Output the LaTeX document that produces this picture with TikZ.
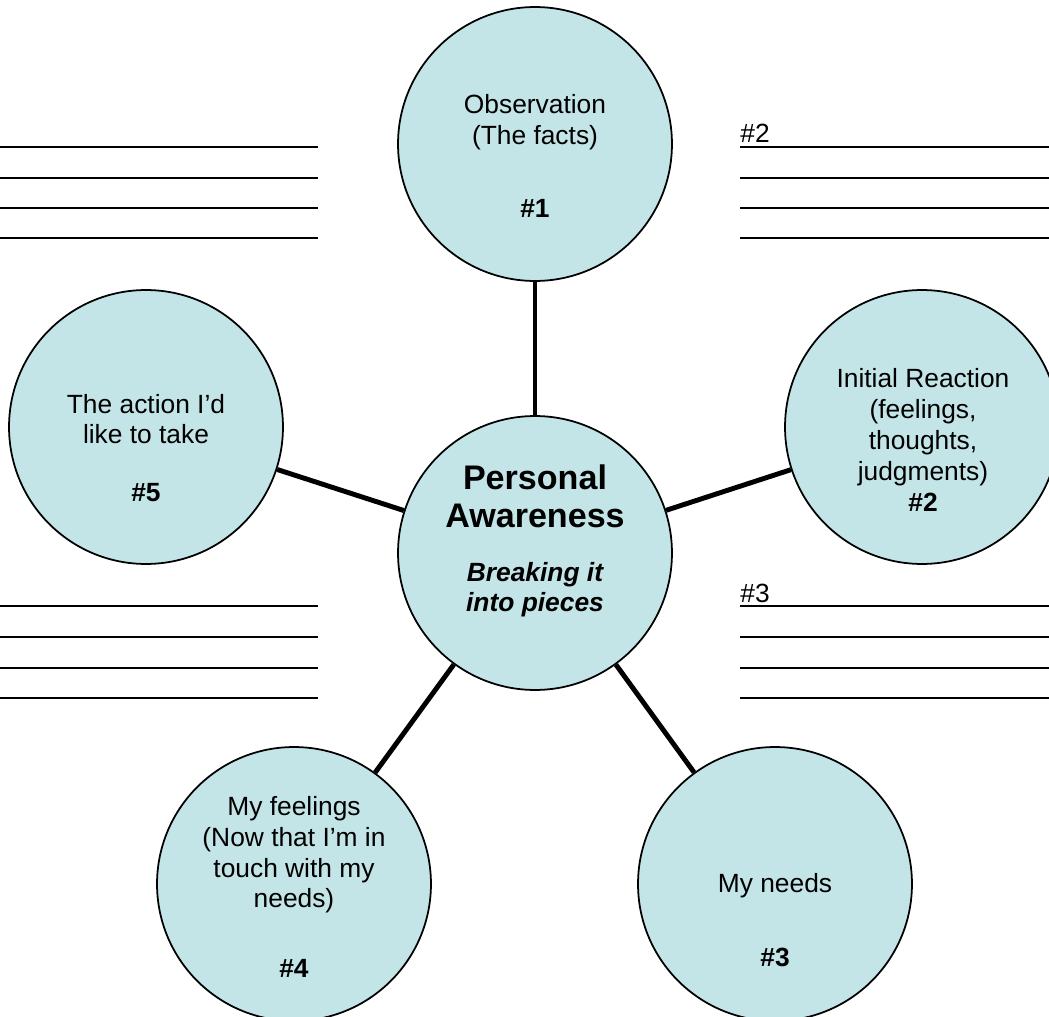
\documentclass[tikz,border=0pt]{standalone}
\usepackage{fontspec}
\setmainfont{Liberation Sans}
\usetikzlibrary{positioning,calc}
\definecolor{paleblue}{RGB}{196,229,232}
\newcommand{\numtag}[1]{\textbf{\##1}}

\begin{document}
\begin{tikzpicture}[x=0.02cm,y=-0.02cm,
  blob/.style={circle,draw,line width=1pt,fill=paleblue,minimum size=5.48cm,inner sep=0pt},
  txt/.style={align=center,inner sep=0pt,font=\fontsize{15}{17.6}\selectfont},
  blank/.style={line width=1.2pt},
  spoke/.style={line width=2.8pt}]
\useasboundingbox (0,0) rectangle (1049,1017);
\foreach \y in {147,178,208,238,606,637,668,698}{
  \draw[blank] (0,\y) -- (318,\y);
  \draw[blank] (740,\y) -- (1049,\y);
}
\node[txt,anchor=base west] (tag2) at (740,143) {\#2};
\node[txt,anchor=base west] (tag3) at (740,602) {\#3};
\node[blob] (obs) at (535,144) {};
\node[blob] (react) at (922,427) {};
\node[blob] (act) at (146,427) {};
\node[blob] (feel) at (294,884) {};
\node[blob] (need) at (775,884) {};
\node[blob] (core) at (535,553) {};
\path[spoke]
(core) edge (obs)
(core) edge (react)
(core) edge (act)
(core) edge (feel)
(core) edge (need);
\node[txt] (obstext) at (535,156) {Observation\\(The facts)\\[0.86cm]\numtag{1}};
\node[txt] (reacttext) at (923,440) {Initial Reaction\\(feelings,\\thoughts,\\judgments)\\\numtag{2}};
\node[txt] (acttext) at (146,448) {The action I’d\\like to take\\[0.54cm]\numtag{5}};
\node[txt] (feeltext) at (294,887) {My feelings\\(Now that I’m in\\touch with my\\needs)\\[0.78cm]\numtag{4}};
\node[txt] (needtext) at (775,920) {My needs\\[0.86cm]\numtag{3}};
\node[txt] (coretext) at (535,541) {\fontsize{19.4}{21.7}\selectfont\bfseries Personal\\[0.14cm]
  \fontsize{19.4}{21.7}\selectfont\bfseries Awareness\\[0.46cm]
  \bfseries\itshape Breaking it\\\bfseries\itshape into pieces};
\end{tikzpicture}
\end{document}
